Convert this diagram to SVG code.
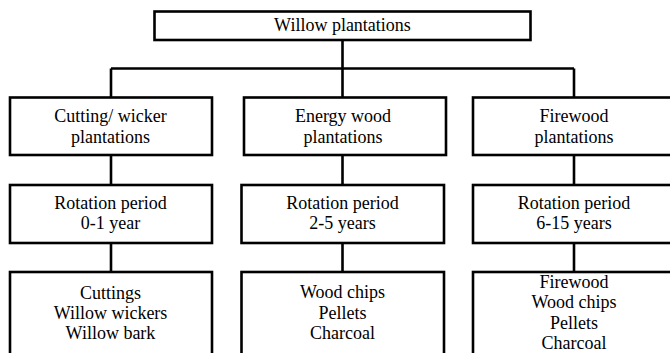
<svg xmlns="http://www.w3.org/2000/svg" width="670" height="353" viewBox="0 0 670 353">
<style>
.box{fill:#fff;stroke:#000;stroke-width:2.6}
.ln{fill:none;stroke:#000;stroke-width:2.6}
.t{font-family:'Liberation Serif','Times New Roman',Times,serif;font-size:18px;fill:#000;text-anchor:middle}
</style>
<rect width="670" height="353" fill="#fff"/>
<g id="connectors">
<path class="ln" d="M342.5 40V68.5M111 68.5H574M111 68.5V97.5M342.5 68.5V97.5M574 68.5V97.5"/>
<path class="ln" d="M111 155V185M342.5 155V185M574 155V185"/>
<path class="ln" d="M111 243V272M342.5 243V272M574 243V272"/>
</g>
<g id="root">
<rect class="box" x="154.5" y="11.5" width="376" height="28.5"/>
<text class="t" x="342.5" y="31" font-family="Liberation Serif, serif">Willow plantations</text>
</g>
<g id="cutting">
<rect class="box" x="10" y="97.5" width="202" height="57.5"/>
<text class="t" x="110.5" y="122">Cutting/ wicker</text>
<text class="t" x="110.5" y="143">plantations</text>
</g>
<g id="energy">
<rect class="box" x="244" y="97.5" width="202" height="57.5"/>
<text class="t" x="343" y="122">Energy wood</text>
<text class="t" x="343" y="143">plantations</text>
</g>
<g id="firewood">
<rect class="box" x="473" y="97.5" width="202" height="57.5"/>
<text class="t" x="574" y="122">Firewood</text>
<text class="t" x="574" y="143">plantations</text>
</g>
<g id="rot1">
<rect class="box" x="10" y="185" width="202" height="58"/>
<text class="t" x="110.5" y="209">Rotation period</text>
<text class="t" x="110.5" y="229">0-1 year</text>
</g>
<g id="rot2">
<rect class="box" x="241.5" y="185" width="202.5" height="58"/>
<text class="t" x="342.5" y="209">Rotation period</text>
<text class="t" x="342.5" y="229">2-5 years</text>
</g>
<g id="rot3">
<rect class="box" x="473" y="185" width="202" height="58"/>
<text class="t" x="574" y="209">Rotation period</text>
<text class="t" x="574" y="229">6-15 years</text>
</g>
<g id="prod1">
<rect class="box" x="10" y="272" width="202" height="90"/>
<text class="t" x="110.5" y="299">Cuttings</text>
<text class="t" x="110.5" y="319">Willow wickers</text>
<text class="t" x="110.5" y="339">Willow bark</text>
</g>
<g id="prod2">
<rect class="box" x="241.5" y="272" width="202.5" height="90"/>
<text class="t" x="342.5" y="298">Wood chips</text>
<text class="t" x="342.5" y="318.5">Pellets</text>
<text class="t" x="342.5" y="339">Charcoal</text>
</g>
<g id="prod3">
<rect class="box" x="473" y="272" width="202" height="90"/>
<text class="t" x="574" y="288">Firewood</text>
<text class="t" x="574" y="308">Wood chips</text>
<text class="t" x="574" y="329">Pellets</text>
<text class="t" x="574" y="349">Charcoal</text>
</g>
</svg>
